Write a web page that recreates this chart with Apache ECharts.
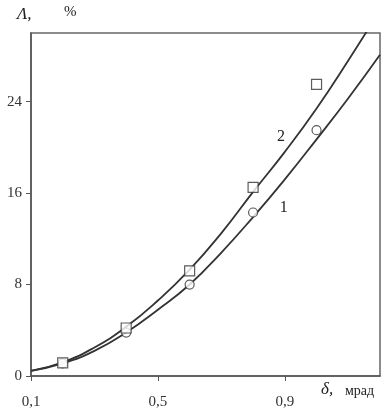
<!DOCTYPE html>
<html><head><meta charset="utf-8">
<script src="https://cdn.jsdelivr.net/npm/echarts@6/dist/echarts.min.js"></script>
<style>html,body{margin:0;padding:0;background:#fff}#c{width:390px;height:412px}</style>
</head><body><div id="c"></div>
<script>
const xTicks = [0.1, 0.5, 0.9];
const yTicks = [0, 8, 16, 24];
const curveX = [0.1, 0.2, 0.3, 0.4, 0.5, 0.6, 0.7, 0.8, 0.9, 1.0, 1.1, 1.2];
const curve1 = [0.45, 1.1, 2.2, 3.8, 5.8, 8.0, 10.8, 13.9, 17.2, 20.7, 24.3, 28.1];
const curve2 = [0.45, 1.2, 2.5, 4.3, 6.6, 9.3, 12.5, 16.1, 19.6, 23.4, 27.6, 32.0];
const pointX = [0.2, 0.4, 0.6, 0.8, 1.0];
const circles = [1.1, 3.8, 8.0, 14.3, 21.5];
const squares = [1.14, 4.2, 9.2, 16.5, 25.5];

const zip = (xs, ys) => xs.map((x, i) => [x, ys[i]]);
const serif = '"Liberation Serif", "DejaVu Serif", serif';
const curveLabel = (txt, coord) => ({
  symbol: 'circle', symbolSize: 1, itemStyle: { color: 'rgba(0,0,0,0)' },
  label: { show: true, position: 'inside', fontFamily: serif, fontSize: 16, color: '#222' },
  data: [{ coord: coord, value: txt, label: { formatter: txt } }]
});
const chart = echarts.init(document.getElementById('c'));
chart.setOption({
  backgroundColor: '#fff',
  animation: false,
  grid: { left: 31, right: 10, top: 33, bottom: 36, show: true, borderColor: '#666', borderWidth: 1.5, backgroundColor: 'transparent' },
  xAxis: {
    type: 'value', min: 0.1, max: 1.2,
    splitLine: { show: false },
    axisLine: { lineStyle: { color: '#555', width: 1.5 } },
    axisTick: { show: true, length: 5, customValues: xTicks, lineStyle: { color: '#555' } },
    axisLabel: { customValues: xTicks, formatter: v => String(v).replace('.', ','), fontFamily: serif, fontSize: 15, color: '#333', margin: 19 }
  },
  yAxis: {
    type: 'value', min: 0, max: 30,
    splitLine: { show: false },
    axisLine: { lineStyle: { color: '#555', width: 1.5 } },
    axisTick: { show: true, length: 5, customValues: yTicks, lineStyle: { color: '#555' } },
    axisLabel: { customValues: yTicks, fontFamily: serif, fontSize: 15, color: '#333', margin: 9 }
  },
  series: [
    { type: 'line', data: zip(curveX, curve1), smooth: true, symbol: 'none', lineStyle: { color: '#333', width: 1.8 },
      markPoint: curveLabel('1', [0.897, 14.7]) },
    { type: 'line', data: zip(curveX, curve2), smooth: true, symbol: 'none', lineStyle: { color: '#333', width: 1.8 },
      markPoint: curveLabel('2', [0.888, 20.9]) },
    { type: 'scatter', data: zip(pointX, circles), symbol: 'circle', symbolSize: 9, itemStyle: { color: '#fff', borderColor: '#333', borderWidth: 1.2 }, z: 5 },
    { type: 'scatter', data: zip(pointX, squares), symbol: 'rect', symbolSize: 10, itemStyle: { color: '#fff', borderColor: '#333', borderWidth: 1.2 }, z: 6 }
  ],
  graphic: [
    { type: 'text', left: 17, top: 6, style: { text: 'Λ,', font: 'italic 17px ' + serif, fill: '#222' } },
    { type: 'text', left: 64, top: 5, style: { text: '%', font: '15px ' + serif, fill: '#222' } },
    { type: 'text', left: 321, top: 381, style: { text: 'δ,', font: 'italic 17px ' + serif, fill: '#222' } },
    { type: 'text', left: 345, top: 384, style: { text: 'мрад', font: '14px ' + serif, fill: '#222' } }
  ]
});
</script></body></html>
